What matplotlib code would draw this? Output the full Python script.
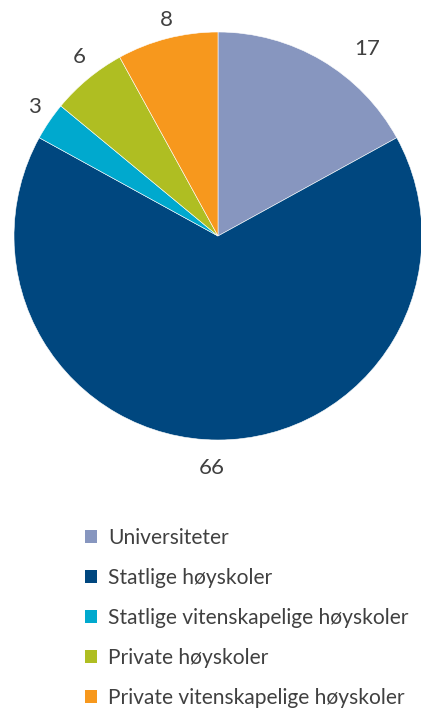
import numpy as np
import matplotlib
matplotlib.use("Agg")
import matplotlib.pyplot as plt
from matplotlib.patches import Patch

categories = ['Universiteter', 'Statlige høyskoler', 'Statlige vitenskapelige høyskoler',
              'Private høyskoler', 'Private vitenskapelige høyskoler']
values = [17, 66, 3, 6, 8]
colors = ['#8796bf', '#00477f', '#00a9ce', '#afbe22', '#f7981d']

# label placement tweaks (distance as fraction of radius, angle shift in degrees)
label_dist = [1.17, 1.14, 1.10, 1.11, 1.09]
label_shift = [-8, -1.5, -0.8, -1.8, -0.9]

plt.rcParams['font.family'] = ['Lato', 'DejaVu Sans']
text_color = '#404040'

W, H = 421, 709
fig = plt.figure(figsize=(W / 100, H / 100), dpi=100)

# pie axes: centre (218, 236) px, radius 204 px
cx, cy, r = 218, 236, 204
ax = fig.add_axes([(cx - r) / W, 1 - (cy + r) / H, 2 * r / W, 2 * r / H])
wedges, _ = ax.pie(values, colors=colors, startangle=90, counterclock=False,
                   wedgeprops=dict(edgecolor='white', linewidth=0.4))
ax.set_aspect('equal')
ax.set_xlim(-1, 1)
ax.set_ylim(-1, 1)
ax.axis('off')

for w, v, d, s in zip(wedges, values, label_dist, label_shift):
    mid = np.deg2rad((w.theta1 + w.theta2) / 2 + s)
    ax.text(d * np.cos(mid), d * np.sin(mid), str(v), ha='center', va='center',
            fontsize=16, color=text_color, clip_on=False)

handles = [Patch(facecolor=c, edgecolor='none') for c in colors]
fig.legend(handles, categories, loc='upper left', bbox_to_anchor=(85 / W, 1 - 528 / H),
           frameon=False, borderpad=0, borderaxespad=0,
           handlelength=0.56, handleheight=0.56, handletextpad=0.55, labelspacing=0.95,
           labelcolor=text_color, prop=dict(size=15.1))

fig.savefig('out.png', dpi=100)
